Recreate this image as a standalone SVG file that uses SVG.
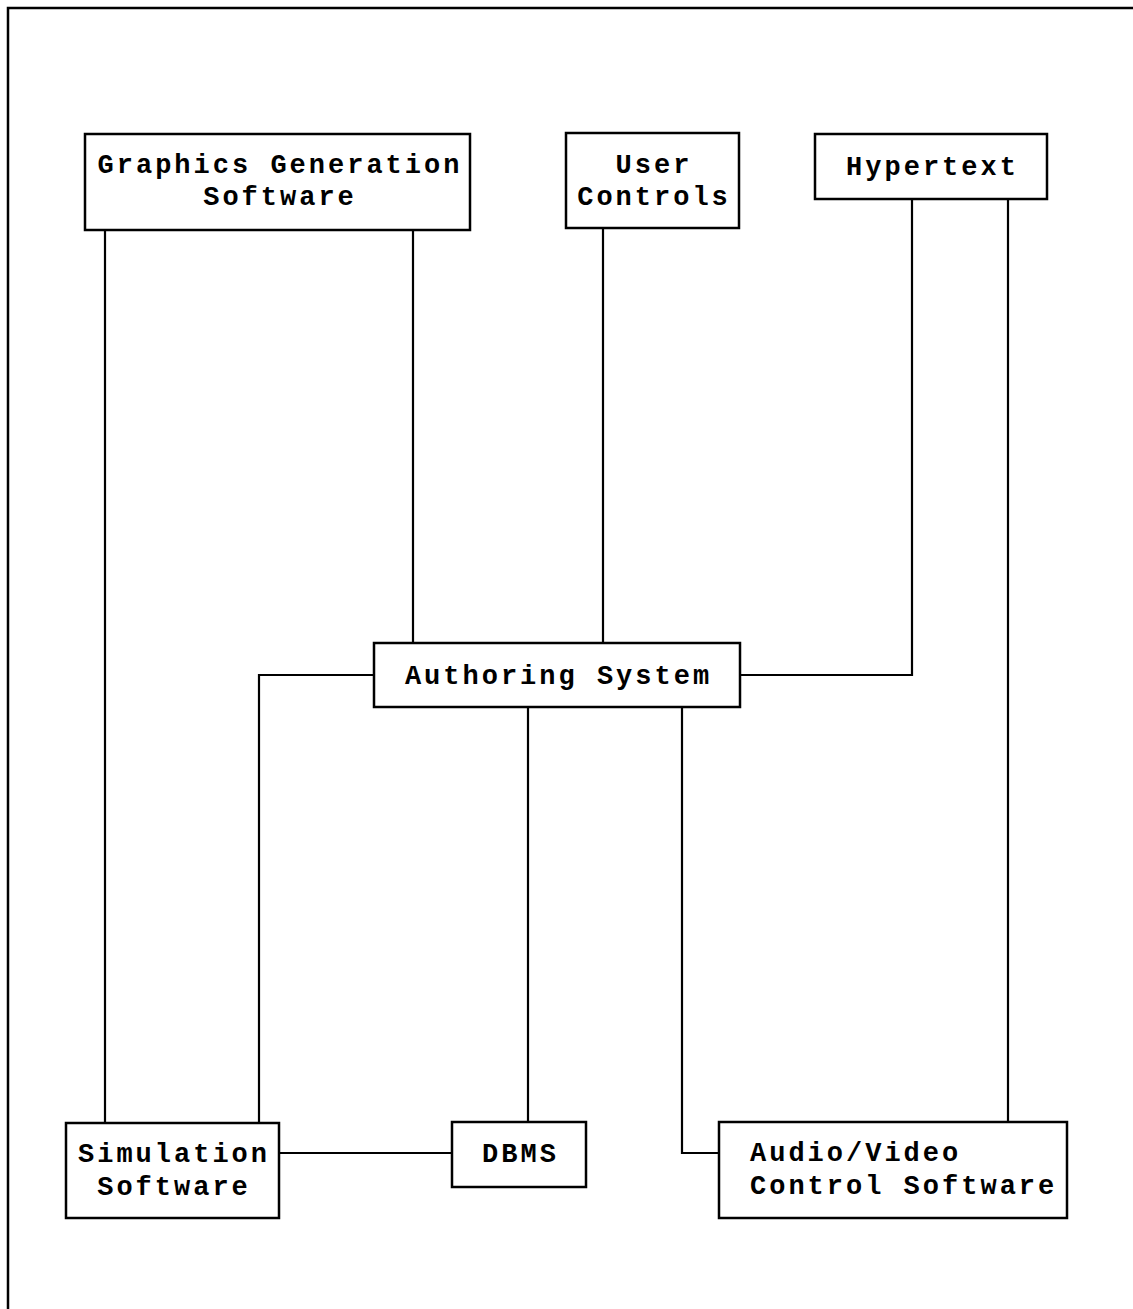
<svg xmlns="http://www.w3.org/2000/svg" width="1133" height="1309" viewBox="0 0 1133 1309">
<style>
.box{fill:#fff;stroke:#000;stroke-width:2.5}
.ln{fill:none;stroke:#000;stroke-width:2.2}
.frame{fill:none;stroke:#000;stroke-width:2.5}
text{font-family:"Liberation Mono","Courier New",monospace;font-weight:bold;font-size:27px;letter-spacing:3px;fill:#000}
.c{text-anchor:middle}
</style>
<rect width="1133" height="1309" fill="#fff"/>
<path class="frame" d="M8,1309 V8 H1133"/>
<g id="connectors">
<path class="ln" d="M105,230 V1123"/>
<path class="ln" d="M413,230 V643"/>
<path class="ln" d="M603,228 V643"/>
<path class="ln" d="M740,675 H912 V199"/>
<path class="ln" d="M1008,199 V1122"/>
<path class="ln" d="M374,675 H259 V1123"/>
<path class="ln" d="M528,707 V1122"/>
<path class="ln" d="M682,707 V1153 H719"/>
<path class="ln" d="M279,1153 H452"/>
</g>
<g id="graphics">
<rect class="box" x="85" y="134" width="385" height="96"/>
<text class="c" x="280" y="173">Graphics Generation</text>
<text class="c" x="280" y="205">Software</text>
</g>
<g id="user-controls">
<rect class="box" x="566" y="133" width="173" height="95"/>
<text class="c" x="654" y="173">User</text>
<text class="c" x="654" y="205">Controls</text>
</g>
<g id="hypertext">
<rect class="box" x="815" y="134" width="232" height="65"/>
<text class="c" x="932.5" y="175">Hypertext</text>
</g>
<g id="authoring">
<rect class="box" x="374" y="643" width="366" height="64"/>
<text class="c" x="558.5" y="684">Authoring System</text>
</g>
<g id="simulation">
<rect class="box" x="66" y="1123" width="213" height="95"/>
<text class="c" x="174" y="1162">Simulation</text>
<text class="c" x="174" y="1195">Software</text>
</g>
<g id="dbms">
<rect class="box" x="452" y="1122" width="134" height="65"/>
<text class="c" x="520.5" y="1162">DBMS</text>
</g>
<g id="av">
<rect class="box" x="719" y="1122" width="348" height="96"/>
<text x="750" y="1161">Audio/Video</text>
<text x="750" y="1194">Control Software</text>
</g>
</svg>
